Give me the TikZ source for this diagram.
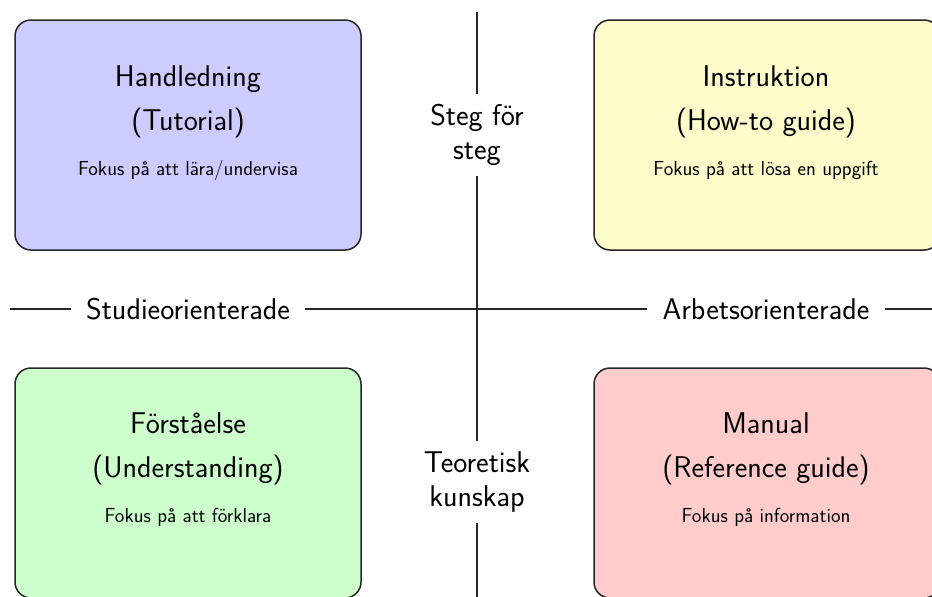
\documentclass[tikz,border=0pt]{standalone}
\usepackage{fontspec}
\begin{document}
\begin{tikzpicture}[x=1pt,y=-1pt,
  quad/.style={draw=black!85, line width=1.5pt, rounded corners=16pt,
    minimum width=346pt, minimum height=230pt, inner sep=0pt},
  ttl/.style={font=\sffamily\fontsize{30}{34}\selectfont, anchor=base, inner sep=0pt},
  sub/.style={font=\sffamily\fontsize{20.3}{24}\selectfont, anchor=base, inner sep=0pt},
  lbl/.style={font=\sffamily\fontsize{30}{34}\selectfont, align=center, inner xsep=15pt, inner ysep=10.5pt},
  axis/.style={draw=black!85, line width=1.5pt}
]
\useasboundingbox (0,0) rectangle (932,597);
\clip (0,0) rectangle (932,597);

% boxes
\node[quad, fill=blue!20]   (tut) at (188,135) {};
\node[quad, fill=yellow!20] (how) at (767,135) {};
\node[quad, fill=green!20]  (und) at (188,483) {};
\node[quad, fill=red!20]    (ref) at (767,483) {};

% box texts
\node[ttl] (tut1) at (188,86)  {Handledning};
\node[ttl] (tut2) at (188,130) {(Tutorial)};
\node[sub] (tut3) at (188,175) {Fokus på att lära/undervisa};

\node[ttl] (how1) at (766,86)  {Instruktion};
\node[ttl] (how2) at (766,130) {(How-to guide)};
\node[sub] (how3) at (766,175) {Fokus på att lösa en uppgift};

\node[ttl] (und1) at (188,433) {Förståelse};
\node[ttl] (und2) at (188,477) {(Understanding)};
\node[sub] (und3) at (188,522) {Fokus på att förklara};

\node[ttl] (ref1) at (766,433) {Manual};
\node[ttl] (ref2) at (766,477) {(Reference guide)};
\node[sub] (ref3) at (766,522) {Fokus på information};

% axis labels
\node[lbl] (steg)   at (477,135) {Steg för\\steg};
\node[lbl] (teor)   at (477,482) {Teoretisk\\kunskap};
\node[lbl] (studie) at (188,309) {Studieorienterade};
\node[lbl] (arbets) at (766,309) {Arbetsorienterade};

\coordinate (vtop) at (477,12);
\coordinate (vbot) at (477,610);
\coordinate (hl) at (10,309);
\coordinate (hr) at (944,309);

\draw[axis] (vtop) -- (steg.north);
\draw[axis] (steg.south) -- (teor.north);
\draw[axis] (teor.south) -- (vbot);
\draw[axis] (hl) -- (studie.west);
\draw[axis] (studie.east) -- (arbets.west);
\draw[axis] (arbets.east) -- (hr);
\end{tikzpicture}
\end{document}
